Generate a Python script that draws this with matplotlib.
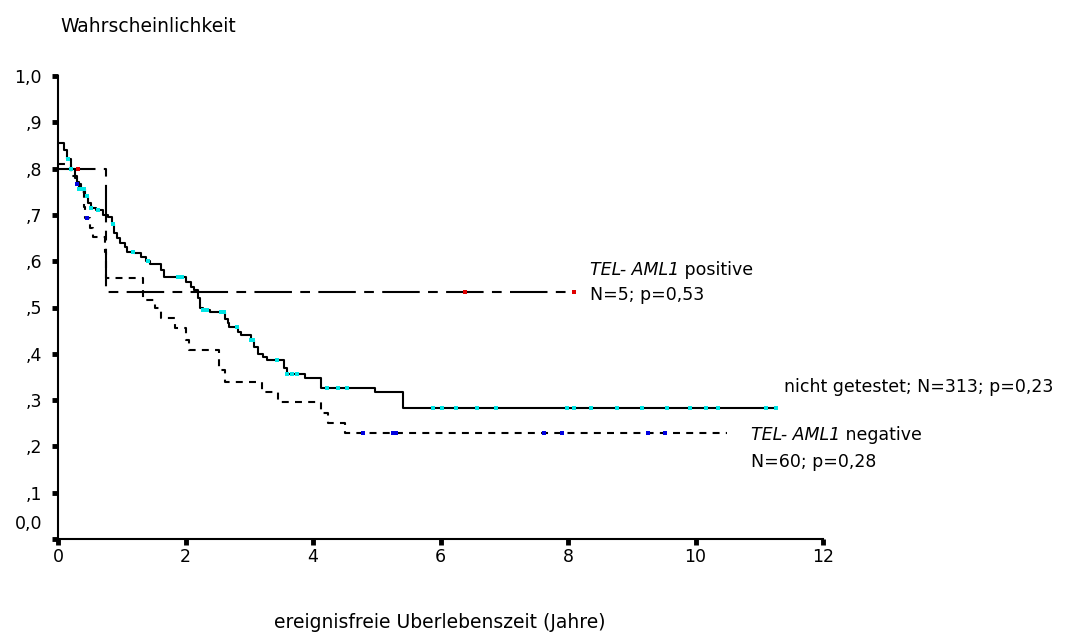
import numpy as np
import matplotlib
matplotlib.use("Agg")
import matplotlib.pyplot as plt

# nicht getestet (N=313): step times (Jahre) and survival after each step
untested_t = [0.0, 0.09, 0.14, 0.2, 0.27, 0.3, 0.33, 0.42, 0.47, 0.52, 0.59, 0.7,
              0.78, 0.84, 0.875, 0.92, 0.98, 1.05, 1.09, 1.19, 1.3, 1.375, 1.44,
              1.61, 1.66, 2.0, 2.08, 2.14, 2.19, 2.22, 2.27, 2.39, 2.625, 2.66,
              2.69, 2.83, 2.875, 3.02, 3.08, 3.14, 3.22, 3.28, 3.55, 3.59, 3.875,
              4.125, 4.97, 5.41]
untested_s = [0.855, 0.84, 0.82, 0.80, 0.78, 0.77, 0.755, 0.74, 0.725, 0.715, 0.71,
              0.70, 0.695, 0.68, 0.66, 0.65, 0.64, 0.63, 0.62, 0.617, 0.61, 0.60,
              0.595, 0.58, 0.566, 0.555, 0.545, 0.538, 0.52, 0.50, 0.495, 0.49,
              0.475, 0.466, 0.458, 0.447, 0.44, 0.43, 0.415, 0.40, 0.393, 0.387,
              0.37, 0.356, 0.348, 0.326, 0.317, 0.283]
untested_end = 11.27
untested_cens = [0.16, 0.2, 0.33, 0.375, 0.41, 0.45, 0.52, 0.625, 0.86, 1.17, 1.41,
                 1.875, 1.95, 2.28, 2.34, 2.55, 2.61, 2.81, 3.02, 3.06, 3.44, 3.59,
                 3.67, 3.75, 4.22, 4.39, 4.53, 5.88, 6.03, 6.25, 6.58, 6.87, 7.98,
                 8.09, 8.36, 8.77, 9.16, 9.55, 9.92, 10.16, 10.36, 11.11, 11.27]

# TEL-AML1 negative (N=60)
negative_t = [0.0, 0.2, 0.3, 0.36, 0.4, 0.42, 0.5, 0.55, 0.74, 0.75, 1.34, 1.52,
              1.61, 1.84, 2.0, 2.06, 2.52, 2.62, 3.2, 3.45, 4.13, 4.23, 4.5]
negative_s = [0.81, 0.783, 0.767, 0.75, 0.717, 0.693, 0.672, 0.652, 0.62, 0.564,
              0.516, 0.50, 0.477, 0.455, 0.43, 0.408, 0.365, 0.339, 0.317, 0.296,
              0.272, 0.25, 0.229]
negative_end = 10.5
negative_cens = [0.3, 0.45, 4.78, 5.25, 5.3, 7.62, 7.9, 9.25, 9.52]

# TEL-AML1 positive (N=5)
positive_t = [0.0, 0.75]
positive_s = [0.8, 0.533]
positive_end = 8.1
positive_cens = [0.31, 6.38, 8.1]

y_ticks = [0.1, 0.2, 0.3, 0.4, 0.5, 0.6, 0.7, 0.8, 0.9, 1.0]
y_labels = [",1", ",2", ",3", ",4", ",5", ",6", ",7", ",8", ",9", "1,0"]
x_ticks = [0, 2, 4, 6, 8, 10, 12]


def _step_curve(ax, t, s, end, cens, cens_color, linestyle):
    t = np.append(t, end)
    s = np.append(s, s[-1])
    ax.step(t, s, where="post", color="black", lw=1.5, linestyle=linestyle)
    idx = np.searchsorted(t, cens, side="right") - 1
    idx = np.clip(idx, 0, len(s) - 1)
    ax.plot(cens, s[idx], ls="none", marker="s", ms=2.2, mew=0,
            color=cens_color, zorder=3)


def _label(ax, x, y, italic, rest):
    t1 = ax.text(x, y, italic, style="italic", ha="left", va="center")
    ax.annotate(rest, xy=(1, 0), xycoords=t1, ha="left", va="bottom")


plt.rcParams.update({
    "font.family": "DejaVu Sans",
    "font.size": 12.5,
    "lines.scale_dashes": False,
})

fig = plt.figure(figsize=(10.68, 6.37), dpi=100)
ax = fig.add_axes([58 / 1068, 1 - 539 / 637, (823 - 58) / 1068, (539 - 76) / 637])

_step_curve(ax, untested_t, untested_s, untested_end, untested_cens, "#00e5e5", "-")
_step_curve(ax, negative_t, negative_s, negative_end, negative_cens, "#0000e0", (0, (5, 4.5)))
_step_curve(ax, positive_t, positive_s, positive_end, positive_cens, "#e00000", (0, (27, 6, 7, 6)))

ax.set_xlim(0, 12)
ax.set_ylim(0, 1)
for side in ["top", "right"]:
    ax.spines[side].set_visible(False)
for side in ["left", "bottom"]:
    ax.spines[side].set_linewidth(1.5)

ax.set_xticks(x_ticks)
ax.set_xticklabels([str(v) for v in x_ticks])
ax.set_yticks([0.0] + y_ticks)
ax.set_yticklabels([""] + y_labels)
ax.tick_params(axis="both", direction="out", length=4, width=3.5, color="black")
ax.tick_params(axis="y", pad=7.5)
ax.tick_params(axis="x", pad=2.5)
ax.annotate("0,0", xy=(0, 0.032), xycoords=ax.get_yaxis_transform(),
            xytext=(-11.5, 0), textcoords="offset points", ha="right", va="center")

_label(ax, 8.34, 0.581, "TEL- AML1", " positive")
ax.text(8.34, 0.527, "N=5; p=0,53", ha="left", va="center")
ax.text(11.39, 0.328, "nicht getestet; N=313; p=0,23", ha="left", va="center")
_label(ax, 10.875, 0.225, "TEL- AML1", " negative")
ax.text(10.875, 0.166, "N=60; p=0,28", ha="left", va="center")

fig.text(60 / 1068, 1 - 26 / 637, "Wahrscheinlichkeit", ha="left", va="center",
         fontsize=13.5)
fig.text(440 / 1068, 1 - 622 / 637, "ereignisfreie Uberlebenszeit (Jahre)",
         ha="center", va="center", fontsize=13.5)

fig.savefig("out.png", dpi=100)
